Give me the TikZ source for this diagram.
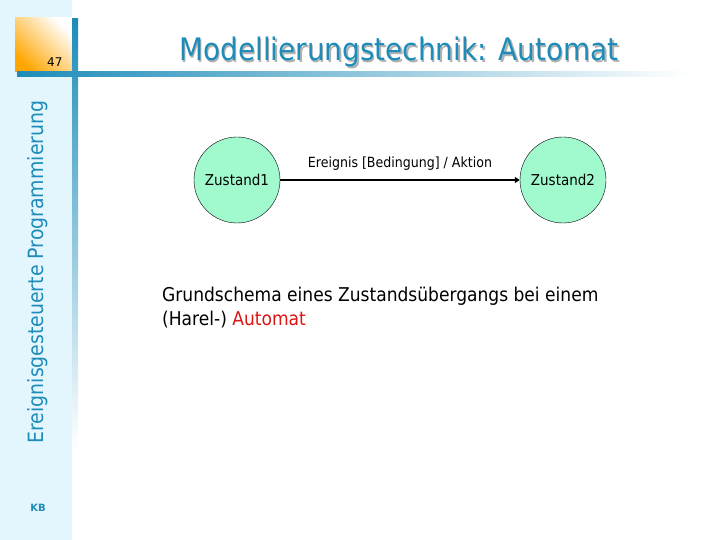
\documentclass[tikz,border=0pt]{standalone}
\usepackage{fontspec}
\setmainfont{DejaVu Sans}
\newfontfamily\bodyf{DejaVu Sans Condensed}
\usetikzlibrary{arrows.meta,shadows}
\definecolor{tblue}{RGB}{30,140,185}
\definecolor{sidebg}{RGB}{228,246,253}
\definecolor{stfill}{RGB}{160,250,205}
\definecolor{ared}{RGB}{220,20,20}
\tikzset{state/.style={circle,draw=black,fill=stfill,minimum size=86pt,inner sep=0pt,font=\bodyf\fontsize{15}{17}\selectfont},
 sidetext/.style={text=tblue}}
\begin{document}
\begin{tikzpicture}[x=1pt,y=-1pt]
\useasboundingbox (0,0) rectangle (720,540);
\fill[sidebg] (0,0) rectangle (72,540);
\shade[top color=white,bottom color=orange!70!yellow,shading angle=-45] (15,18) rectangle (72,72);
\shade[top color=tblue,bottom color=white] (72,19) rectangle (78,450);
\shade[left color=tblue,right color=white] (17,72) rectangle (690,77);
\node[font=\fontsize{12}{14}\selectfont,anchor=east] (pg) at (66,62) {47};
\node[sidetext,font=\bodyf\fontsize{21}{24}\selectfont,rotate=90] (vt) at (38,272) {Ereignisgesteuerte Programmierung};
\node[sidetext,font=\bfseries\fontsize{10}{12}\selectfont] (kb) at (38,508) {KB};
\node[text=gray!60,font=\bodyf\fontsize{31}{36}\selectfont] at (400.5,53.5) {Modellierungstechnik: Automat};
\node[text=tblue,font=\bodyf\fontsize{31}{36}\selectfont] (title) at (399,52) {Modellierungstechnik: Automat};
\node[state] (z1) at (237,180) {Zustand1};
\node[state] (z2) at (563,180) {Zustand2};
\draw[line width=2pt,-{Triangle[length=5pt,width=6pt]}] (z1) -- node[above=5pt,font=\bodyf\fontsize{14}{16}\selectfont]{Ereignis [Bedingung] / Aktion} (z2);
\node[anchor=north west,align=left,font=\bodyf\fontsize{19}{24}\selectfont,inner sep=0pt] (txt) at (162,287) {Grundschema eines Zustandsübergangs bei einem\\(Harel-) \textcolor{ared}{Automat}};
\end{tikzpicture}
\end{document}
